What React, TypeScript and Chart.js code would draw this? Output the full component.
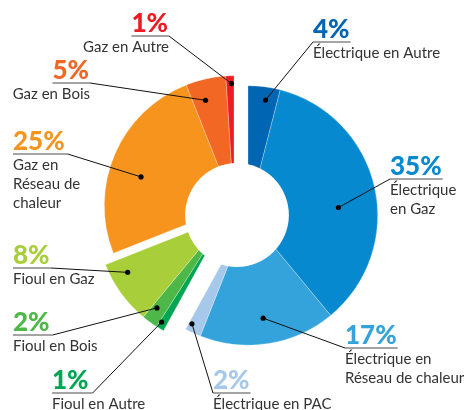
import React, { useEffect, useRef } from "react";
import { Chart, registerables } from "chart.js";

Chart.register(...registerables);

// ---------- data ----------
const categories = [
  "Électrique en Autre",
  "Électrique en Gaz",
  "Électrique en Réseau de chaleur",
  "Électrique en PAC",
  "Fioul en Autre",
  "Fioul en Bois",
  "Fioul en Gaz",
  "Gaz en Réseau de chaleur",
  "Gaz en Bois",
  "Gaz en Autre",
];
const values = [4, 35, 17, 2, 1, 2, 8, 25, 5, 1];
const groupOf = ["E", "E", "E", "E", "F", "F", "F", "G", "G", "G"];

// ---------- styles ----------
const colors = [
  "#0065b2",
  "#0789d0",
  "#34a3dc",
  "#a6c9eb",
  "#00a651",
  "#4db848",
  "#a8cf3a",
  "#f7941e",
  "#f26724",
  "#ed1c24",
];
const pctColors = colors;

// explode shift of each group (px)
const groupShift: Record<string, [number, number]> = {
  E: [11, 0.5],
  F: [-11, 2],
  G: [-3, -9.5],
};

type LabelLayout = {
  x: number;
  y: number;
  align: "left" | "right";
  lead: "left" | "right";
  lines: string[];
  dotA: number;
  dotR: number;
  ext?: number;
};

const labelLayout: LabelLayout[] = [
  { x: 313, y: 42, align: "left", lead: "left", lines: ["Électrique en Autre"], dotA: 0.6, dotR: 0.9 },
  { x: 390, y: 179, align: "left", lead: "left", lines: ["Électrique", "en Gaz"], dotA: 0.56, dotR: 0.7 },
  { x: 345, y: 348, align: "left", lead: "left", lines: ["Électrique en", "Réseau de chaleur"], dotA: 0.51, dotR: 0.8 },
  { x: 213, y: 393, align: "left", lead: "left", lines: ["Électrique en PAC"], dotA: 0.8, dotR: 0.94 },
  { x: 52, y: 393, align: "left", lead: "right", lines: ["Fioul en Autre"], dotA: 0.75, dotR: 0.95, ext: 4 },
  { x: 13, y: 335, align: "left", lead: "right", lines: ["Fioul en Bois"], dotA: 0.67, dotR: 0.88, ext: 3 },
  { x: 13, y: 268, align: "left", lead: "right", lines: ["Fioul en Gaz"], dotA: 0.73, dotR: 0.87 },
  { x: 13, y: 154, align: "left", lead: "right", lines: ["Gaz en", "Réseau de", "chaleur"], dotA: 0.43, dotR: 0.75, ext: 3 },
  { x: 90, y: 83, align: "right", lead: "right", lines: ["Gaz en Bois"], dotA: 0.36, dotR: 0.84 },
  { x: 169, y: 36, align: "right", lead: "right", lines: ["Gaz en Autre"], dotA: 0.67, dotR: 0.94 },
];

const FONT_FAMILY = "Lato, 'Open Sans', sans-serif";

const shiftPlugin = {
  id: "groupShift",
  afterDatasetsUpdate(chart: any) {
    const meta = chart.getDatasetMeta(0);
    const area = chart.chartArea;
    const cx = (area.left + area.right) / 2;
    const cy = (area.top + area.bottom) / 2;
    meta.data.forEach((el: any, i: number) => {
      const s = groupShift[groupOf[i]];
      el.x = cx + s[0];
      el.y = cy + s[1];
    });
  },
};

const holePlugin = {
  id: "hole",
  afterDatasetsDraw(chart: any) {
    const meta = chart.getDatasetMeta(0);
    const area = chart.chartArea;
    const cx = (area.left + area.right) / 2;
    const cy = (area.top + area.bottom) / 2;
    const R = meta.data[0].outerRadius;
    const ctx = chart.ctx;
    ctx.save();
    ctx.beginPath();
    ctx.arc(cx, cy, R * 0.4, 0, Math.PI * 2);
    ctx.fillStyle = "#ffffff";
    ctx.fill();
    ctx.restore();
  },
};

const labelPlugin = {
  id: "callouts",
  afterDraw(chart: any) {
    const meta = chart.getDatasetMeta(0);
    const ctx = chart.ctx;
    ctx.save();
    meta.data.forEach((el: any, i: number) => {
      const L = labelLayout[i];
      const a = el.startAngle + L.dotA * (el.endAngle - el.startAngle);
      const r = L.dotR * el.outerRadius;
      const dx = el.x + r * Math.cos(a);
      const dy = el.y + r * Math.sin(a);

      const pct = `${values[i]}%`;
      ctx.font = `900 26px ${FONT_FAMILY}`;
      const w = ctx.measureText(pct).width;
      const ext = L.ext ?? 1;
      const left = L.align === "left" ? L.x : L.x - w - ext;
      const right = left + w + ext;

      ctx.fillStyle = pctColors[i];
      ctx.textAlign = "left";
      ctx.textBaseline = "alphabetic";
      ctx.fillText(pct, left, L.y - 4);

      ctx.strokeStyle = "#4a4a4a";
      ctx.lineWidth = 1.2;
      ctx.beginPath();
      ctx.moveTo(left, L.y);
      ctx.lineTo(right, L.y);
      ctx.stroke();

      const lx = L.lead === "left" ? left : right;
      ctx.strokeStyle = "#111";
      ctx.lineWidth = 1;
      ctx.beginPath();
      ctx.moveTo(lx, L.y);
      ctx.lineTo(dx, dy);
      ctx.stroke();

      ctx.fillStyle = "#000";
      ctx.beginPath();
      ctx.arc(dx, dy, 2.6, 0, Math.PI * 2);
      ctx.fill();

      ctx.font = `15px ${FONT_FAMILY}`;
      ctx.fillStyle = "#333333";
      ctx.textBaseline = "middle";
      ctx.textAlign = L.align === "left" ? "left" : "right";
      const tx = L.align === "left" ? left : right - ext + 1;
      L.lines.forEach((line, k) => {
        ctx.fillText(line, tx, L.y + 11 + k * 19);
      });
    });
    ctx.restore();
  },
};

export default function App() {
  const canvasRef = useRef<HTMLCanvasElement | null>(null);

  useEffect(() => {
    if (!canvasRef.current) return;
    const chart = new Chart(canvasRef.current, {
      type: "doughnut",
      data: {
        labels: categories,
        datasets: [
          {
            data: values,
            backgroundColor: colors,
            borderColor: "rgba(255,255,255,0.45)",
            borderWidth: 0.6,
          },
        ],
      },
      options: {
        responsive: false,
        animation: false,
        events: [],
        cutout: "15%",
        layout: { padding: { left: 107, right: 101, top: 85, bottom: 65 } },
        plugins: {
          legend: { display: false },
          tooltip: { enabled: false },
          title: { display: false },
        },
      },
      plugins: [shiftPlugin, holePlugin, labelPlugin],
    });
    return () => chart.destroy();
  }, []);

  return (
    <div style={{ position: "fixed", left: 0, top: 0, width: 468, height: 410, background: "#fff" }}>
      <canvas ref={canvasRef} width={468} height={410} style={{ width: 468, height: 410, display: "block" }} />
    </div>
  );
}
